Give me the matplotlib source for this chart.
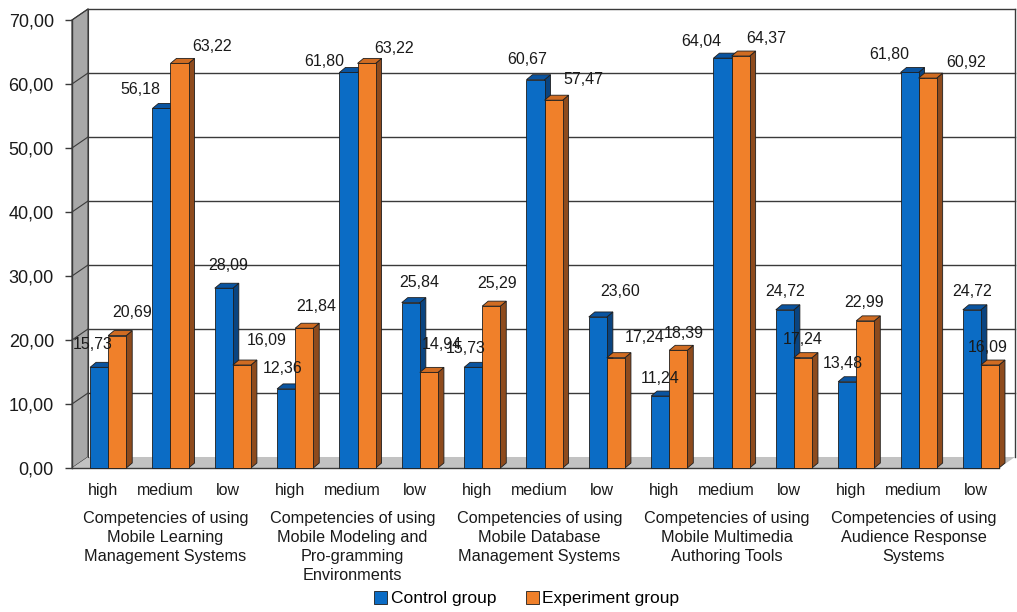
import matplotlib
matplotlib.use("Agg")
import matplotlib.pyplot as plt
from matplotlib.patches import Polygon, Rectangle, Patch

plt.rcParams["font.family"] = ["Liberation Sans", "DejaVu Sans"]

# ---- data -------------------------------------------------------------
levels = ["high", "medium", "low"]
groups = [
    "Competencies of using\nMobile Learning\nManagement Systems",
    "Competencies of using\nMobile Modeling and\nPro-gramming\nEnvironments",
    "Competencies of using\nMobile Database\nManagement Systems",
    "Competencies of using\nMobile Multimedia\nAuthoring Tools",
    "Competencies of using\nAudience Response\nSystems",
]
control = [15.73, 56.18, 28.09,
           12.36, 61.80, 25.84,
           15.73, 60.67, 23.60,
           11.24, 64.04, 24.72,
           13.48, 61.80, 24.72]
experiment = [20.69, 63.22, 16.09,
              21.84, 63.22, 14.94,
              25.29, 57.47, 17.24,
              18.39, 64.37, 17.24,
              22.99, 60.92, 16.09]
y_ticks = [0, 10, 20, 30, 40, 50, 60, 70]

# label placement as drawn by the original (pixel offsets from bar top)
ctrl_lbl_off = [(-6, 23), (-21, 19), (4, 23), (-4, 20), (-24, 11), (8, 20),
                (-7, 19), (-8, 20), (22, 25), (0, 18), (-21, 17), (0, 18),
                (-4, 18), (-20, 18), (0, 18)]
exp_lbl_off = [(15, 23), (33, 17), (25, 25), (12, 22), (28, 15), (13, 28),
               (6, 23), (30, 21), (29, 20), (5, 17), (26, 18), (0, 18),
               (-1, 18), (39, 16), (-2, 18)]

# ---- style ------------------------------------------------------------
BLUE, BLUE_TOP, BLUE_SIDE = "#0B6CC5", "#0A54A0", "#0A4480"
ORANGE, ORANGE_TOP, ORANGE_SIDE = "#F0802A", "#D06C22", "#8E4B1D"
EDGE = "#1E1E1E"
GRID = "#3A3A3A"
TXT = "#1A1A1A"

bar_w = 0.29       # width of one bar (category units)
pair_shift = 0.08  # bars sit slightly right of the tick label
dx, dy = 0.096, 0.78     # bar depth
wdx, wdy = 0.257, 1.72   # wall depth
xl, xr = -0.5, 14.37

fig = plt.figure(figsize=(10.17, 6.12), dpi=100)
ax = fig.add_axes([72 / 1017, 144 / 612, 927 / 1017, 448 / 612])
ax.set_xlim(xl, xr)
ax.set_ylim(0, 70)
for s in ax.spines.values():
    s.set_visible(False)

# walls and floor
ax.add_patch(Polygon([(xl, 0), (xl, 70), (xl + wdx, 70 + wdy), (xl + wdx, wdy)],
                     closed=True, fc="#A8A8A8", ec=GRID, lw=0.8, clip_on=False, zorder=1))
ax.add_patch(Polygon([(xl, 0), (xr, 0), (xr + wdx, wdy), (xl + wdx, wdy)],
                     closed=True, fc="#C2C2C2", ec="none", lw=0, clip_on=False, zorder=1))
ax.plot([xl, xr], [0, 0], color=GRID, lw=1.0, clip_on=False, zorder=2)
for t in y_ticks[1:]:
    ax.plot([xl + wdx, xr + wdx], [t + wdy, t + wdy], color=GRID, lw=1.0,
            clip_on=False, zorder=2)
    ax.plot([xl, xl + wdx], [t, t + wdy], color=GRID, lw=0.8, clip_on=False, zorder=2)
ax.plot([xr + wdx, xr + wdx], [wdy, 70 + wdy], color=GRID, lw=1.0, clip_on=False, zorder=2)
ax.plot([xl + wdx, xl + wdx], [wdy, 70 + wdy], color=GRID, lw=0.8, clip_on=False, zorder=2)
ax.plot([xl, xl], [0, 70], color=GRID, lw=1.0, clip_on=False, zorder=2)


def bar3d(x0, v, front, top, side):
    ax.add_patch(Polygon([(x0 + bar_w, 0), (x0 + bar_w, v), (x0 + bar_w + dx, v + dy),
                          (x0 + bar_w + dx, dy)], closed=True, fc=side, ec=EDGE,
                         lw=0.6, clip_on=False, zorder=3))
    ax.add_patch(Polygon([(x0, v), (x0 + bar_w, v), (x0 + bar_w + dx, v + dy),
                          (x0 + dx, v + dy)], closed=True, fc=top, ec=EDGE,
                         lw=0.6, clip_on=False, zorder=3))
    ax.add_patch(Rectangle((x0, 0), bar_w, v, fc=front, ec=EDGE, lw=0.6,
                           clip_on=False, zorder=3))


for i, (c, e) in enumerate(zip(control, experiment)):
    p = i + pair_shift
    bar3d(p - bar_w, c, BLUE, BLUE_TOP, BLUE_SIDE)
    bar3d(p, e, ORANGE, ORANGE_TOP, ORANGE_SIDE)
    ox, oy = ctrl_lbl_off[i]
    ax.annotate(f"{c:.2f}".replace(".", ","), (p - bar_w / 2, c), xytext=(ox, oy),
                textcoords="offset pixels", ha="center", va="center",
                fontsize=11.5, color=TXT, zorder=5, annotation_clip=False)
    ox, oy = exp_lbl_off[i]
    ax.annotate(f"{e:.2f}".replace(".", ","), (p + bar_w / 2, e), xytext=(ox, oy),
                textcoords="offset pixels", ha="center", va="center",
                fontsize=11.5, color=TXT, zorder=5, annotation_clip=False)

# axes ticks
ax.set_yticks(y_ticks)
ax.set_yticklabels([f"{t:.2f}".replace(".", ",") for t in y_ticks],
                   fontsize=13, color=TXT)
ax.tick_params(axis="y", length=5, width=1.0, color=GRID, pad=8)
ax.set_xticks(range(len(control)))
ax.set_xticklabels(levels * len(groups), fontsize=11.5, color=TXT)
ax.tick_params(axis="x", length=0, pad=11)

for g, name in enumerate(groups):
    ax.annotate(name, (3 * g + 1, 0), xytext=(0, -43), textcoords="offset pixels",
                ha="center", va="top", fontsize=11.7, color=TXT,
                linespacing=1.32, annotation_clip=False)

handles = [Patch(fc=BLUE, ec=EDGE, lw=0.6, label="Control group"),
           Patch(fc=ORANGE, ec=EDGE, lw=0.6, label="Experiment group")]
fig.legend(handles=handles, loc="center", bbox_to_anchor=(0.518, 0.022), ncol=2,
           frameon=False, fontsize=12.5, handlelength=0.75, handleheight=0.75,
           handletextpad=0.2, columnspacing=1.7, borderpad=0)

fig.savefig("out.png", dpi=100)
